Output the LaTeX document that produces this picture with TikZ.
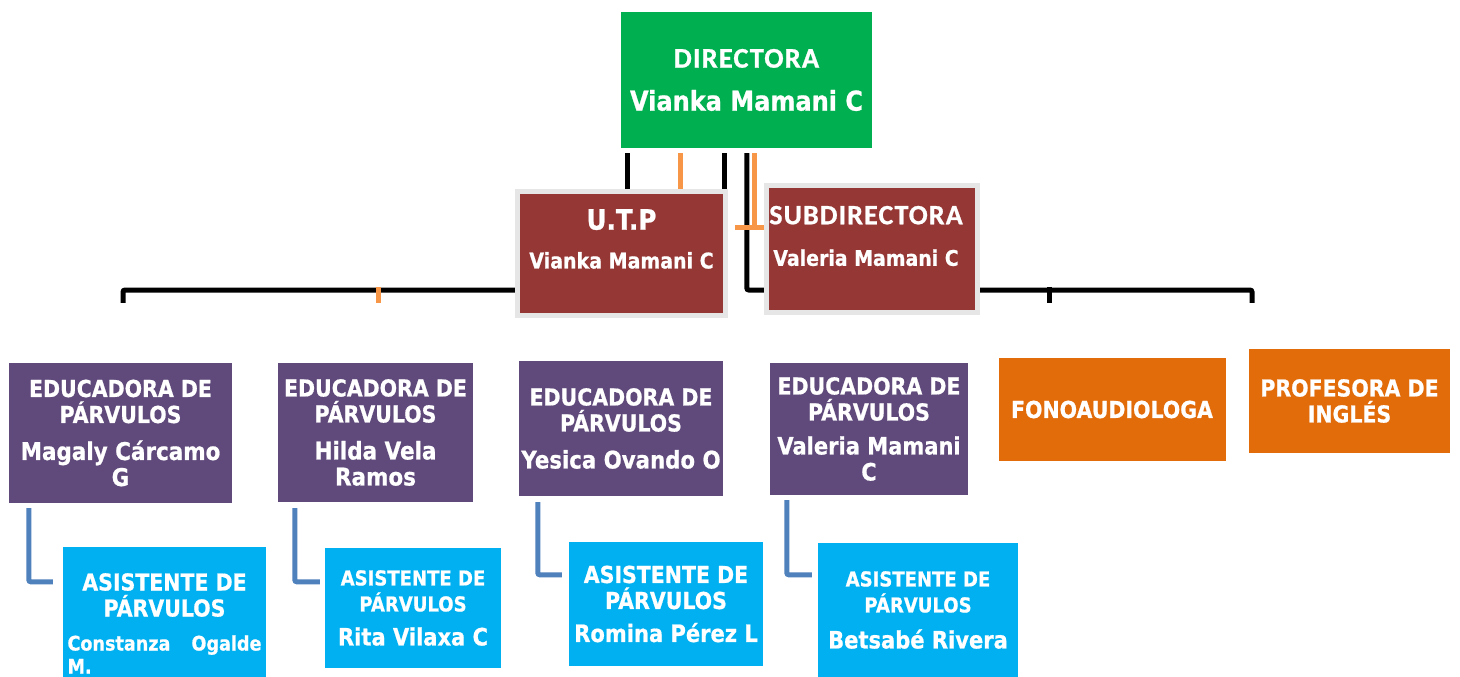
\documentclass[tikz,border=0pt]{standalone}
\usepackage{fontspec}
\setmainfont{DejaVu Sans}[FakeStretch=0.88, BoldFeatures={FakeBold=0.8}]
\newfontfamily\carl{Carlito}[LetterSpace=4, BoldFeatures={FakeBold=0.8}]
\usetikzlibrary{calc}
\pgfdeclarelayer{back}
\pgfdeclarelayer{bg}
\pgfsetlayers{back,bg,main}
\definecolor{dirgreen}{RGB}{0,176,80}
\definecolor{utpred}{RGB}{149,55,53}
\definecolor{edupurple}{RGB}{96,74,123}
\definecolor{asicyan}{RGB}{0,176,240}
\definecolor{oranbox}{RGB}{226,107,10}
\definecolor{oranline}{RGB}{247,150,70}
\definecolor{bluline}{RGB}{79,129,189}
\definecolor{framegray}{RGB}{230,230,230}
\begin{document}
\begin{tikzpicture}[x=1pt,y=-1pt,
  box/.style={rectangle, inner sep=0pt, text=white, align=center,
    font=\bfseries\fontsize{23.3}{26}\selectfont},
  framebox/.style={rectangle, inner sep=0pt, draw=framegray, line width=5pt, fill=utpred},
  txt/.style={inner sep=0pt, text=white, align=center, font=\bfseries},
  blk/.style={draw=black, line width=5pt, rounded corners=2pt},
  org/.style={draw=oranline, line width=5pt},
  blu/.style={draw=bluline, line width=5pt, rounded corners=2pt}
]
\begin{pgfonlayer}{back}
\fill[white] (0,0) rectangle (1460,677);
\end{pgfonlayer}
\useasboundingbox (0,0) rectangle (1460,677);

% top
\node[box, fill=dirgreen, minimum width=251pt, minimum height=136pt] (dir) at (746.5,80)
  {{\carl\fontsize{28.5}{42}\selectfont DIRECTORA}\\[17pt]{\fontsize{27.3}{28}\selectfont Vianka Mamani C}};

\node[framebox, minimum width=208pt, minimum height=124pt] (utp) at (621.5,253.5) {};
\node[txt] (utpt) at (621.5,239)
  {{\fontsize{28}{30}\selectfont U.T.P}\\[21pt]{\fontsize{21.6}{24}\selectfont Vianka Mamani C}};

\node[framebox, minimum width=211pt, minimum height=127pt] (sub) at (872,249) {};
\node[txt] (subt) at (866,236)
  {{\carl\fontsize{28}{32}\selectfont SUBDIRECTORA}\\[24pt]{\fontsize{21.5}{24}\selectfont Valeria Mamani C}};

% educadoras
\node[box, fill=edupurple, minimum width=223pt, minimum height=140pt] (e1) at (120.5,433)
  {EDUCADORA DE\\PÁRVULOS\\[11pt]{\fontsize{24.4}{27}\selectfont Magaly Cárcamo}\\{\fontsize{24.4}{27}\selectfont G}};
\node[box, fill=edupurple, minimum width=195pt, minimum height=139pt] (e2) at (375.5,432.5)
  {EDUCADORA DE\\PÁRVULOS\\[11pt]{\fontsize{24.4}{27}\selectfont Hilda Vela}\\{\fontsize{24.4}{27}\selectfont Ramos}};
\node[box, fill=edupurple, minimum width=204pt, minimum height=135pt] (e3) at (621,428.5)
  {EDUCADORA DE\\PÁRVULOS\\[11pt]{\fontsize{24.2}{27}\selectfont Yesica Ovando O}};
\node[box, fill=edupurple, minimum width=198pt, minimum height=132pt] (e4) at (869,429)
  {EDUCADORA DE\\PÁRVULOS\\[8pt]{\fontsize{23.9}{27}\selectfont Valeria Mamani}\\{\fontsize{23.9}{27}\selectfont C}};

\node[box, fill=oranbox, minimum width=227pt, minimum height=103pt] (fono) at (1112,409.5)
  {FONOAUDIOLOGA};
\node[box, fill=oranbox, minimum width=201pt, minimum height=104pt] (prof) at (1349.5,401)
  {PROFESORA DE\\INGLÉS};

% asistentes
\node[box, fill=asicyan, minimum width=203pt, minimum height=130pt] (a1) at (164.5,612)
  {\\[14pt]ASISTENTE DE\\PÁRVULOS\\[8pt]\parbox[t]{194pt}{\fontsize{20}{23}\selectfont Constanza\hfill Ogalde\\M.}};
\node[box, fill=asicyan, minimum width=176pt, minimum height=120pt] (a2) at (413,608)
  {{\fontsize{20.5}{26}\selectfont ASISTENTE DE}\\{\fontsize{20.5}{26}\selectfont PÁRVULOS}\\[8pt]{\fontsize{23.9}{27}\selectfont Rita Vilaxa C}};
\node[box, fill=asicyan, minimum width=194pt, minimum height=124pt] (a3) at (666,604)
  {ASISTENTE DE\\PÁRVULOS\\[7pt]{\fontsize{23.9}{27}\selectfont Romina Pérez L}};
\node[box, fill=asicyan, minimum width=200pt, minimum height=134pt] (a4) at (918,610)
  {{\fontsize{20.5}{26}\selectfont ASISTENTE DE}\\{\fontsize{20.5}{26}\selectfont PÁRVULOS}\\[10pt]{\fontsize{23.9}{27}\selectfont Betsabé Rivera}};

% connectors
\begin{pgfonlayer}{bg}
\draw[blk] ($(dir.south west)+(7,5)$) coordinate (s1) -- (s1 |- utp.north);
\draw[org] ($(dir.south west)+(60,5)$) coordinate (s2) -- (s2 |- utp.north);
\draw[blk] ($(dir.south west)+(104,5)$) coordinate (s3) -- (s3 |- utp.north);
\draw[blk] ($(dir.south west)+(126,5)$) |- ($(sub.south west)+(0,-25)$);
\draw[org] ($(dir.south west)+(134,5)$) -- ++(0,74) coordinate (s5);
\draw[org] ($(s5)+(-20,0)$) -- ($(s5)+(9,0)$);
\draw[blk] ($(utp.south west)+(0,-28)$) -| ($(e1.north)+(2.5,-60)$);
\draw[org] ($(e2.north)+(2.5,-76)$) -- ($(e2.north)+(2.5,-60)$);
\draw[blk] ($(sub.south east)+(0,-25)$) -| ($(prof.north)+(-97.5,-46)$);
\draw[blk] ($(fono.north)+(-63,-71)$) -- ($(fono.north)+(-63,-55)$);
\draw[blu] ($(e1.south west)+(20,5)$) |- ($(a1.north west)+(-10,35)$);
\draw[blu] ($(e2.south west)+(17,6)$) |- ($(a2.north west)+(-5,34)$);
\draw[blu] ($(e3.south west)+(19,6)$) |- ($(a3.north west)+(-7,33)$);
\draw[blu] ($(e4.south west)+(17,5)$) |- ($(a4.north west)+(-6,32)$);
\end{pgfonlayer}
\end{tikzpicture}
\end{document}
